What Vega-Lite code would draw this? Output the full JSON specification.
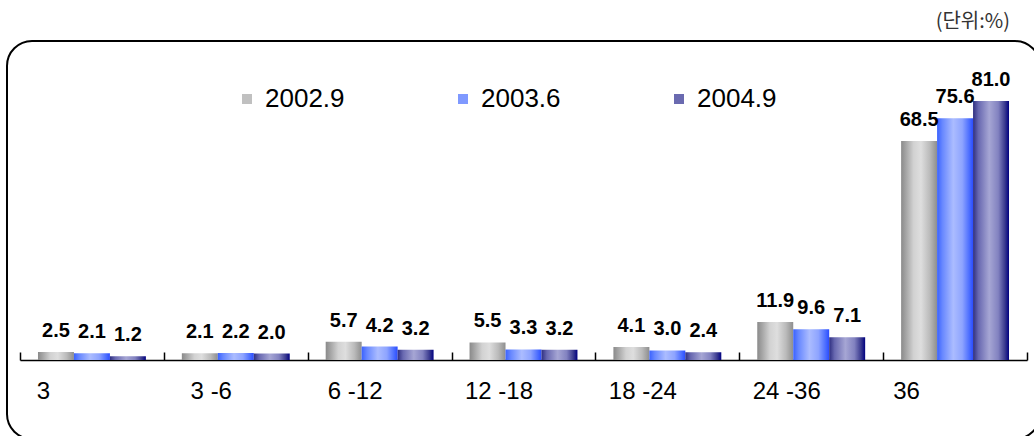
{
  "$schema": "https://vega.github.io/schema/vega-lite/v6.json",
  "width": 1033,
  "height": 398,
  "autosize": {"type": "none"},
  "padding": {"left": 7, "top": 41, "right": 0, "bottom": 0},
  "background": "white",
  "config": {
    "view": {"stroke": "black", "strokeWidth": 2, "cornerRadius": 25},
    "font": "Liberation Sans"
  },
  "title": {
    "text": "(단위:%)",
    "anchor": "end",
    "font": "Noto Sans CJK KR",
    "fontSize": 20,
    "fontWeight": "normal",
    "color": "#333",
    "dx": -30,
    "offset": 9
  },
  "data": {
    "values": [
      {"period": "3", "series": "2002.9", "value": 2.5},
      {"period": "3", "series": "2003.6", "value": 2.1},
      {"period": "3", "series": "2004.9", "value": 1.2},
      {"period": "3 -6", "series": "2002.9", "value": 2.1},
      {"period": "3 -6", "series": "2003.6", "value": 2.2},
      {"period": "3 -6", "series": "2004.9", "value": 2.0},
      {"period": "6 -12", "series": "2002.9", "value": 5.7},
      {"period": "6 -12", "series": "2003.6", "value": 4.2},
      {"period": "6 -12", "series": "2004.9", "value": 3.2},
      {"period": "12 -18", "series": "2002.9", "value": 5.5},
      {"period": "12 -18", "series": "2003.6", "value": 3.3},
      {"period": "12 -18", "series": "2004.9", "value": 3.2},
      {"period": "18 -24", "series": "2002.9", "value": 4.1},
      {"period": "18 -24", "series": "2003.6", "value": 3.0},
      {"period": "18 -24", "series": "2004.9", "value": 2.4},
      {"period": "24 -36", "series": "2002.9", "value": 11.9},
      {"period": "24 -36", "series": "2003.6", "value": 9.6},
      {"period": "24 -36", "series": "2004.9", "value": 7.1},
      {"period": "36", "series": "2002.9", "value": 68.5},
      {"period": "36", "series": "2003.6", "value": 75.6},
      {"period": "36", "series": "2004.9", "value": 81.0}
    ]
  },
  "encoding": {
    "x": {
      "field": "period",
      "type": "nominal",
      "sort": null,
      "scale": {"range": [13, 1020], "paddingInner": 0, "paddingOuter": 0},
      "axis": {
        "title": null,
        "offset": -79,
        "domainColor": "black",
        "domainWidth": 1.5,
        "tickColor": "black",
        "tickWidth": 1.5,
        "tickSize": -8,
        "tickBand": "extent",
        "labelAngle": 0,
        "labelFontSize": 24,
        "labelColor": "black",
        "labelFont": "Liberation Sans",
        "labelPadding": 27,
        "labelAlign": "center",
        "labelOffset": {"expr": "datum.value == '3' || datum.value == '36' ? -49 : -25"},
        "grid": false
      }
    },
    "xOffset": {
      "field": "series",
      "type": "nominal",
      "scale": {"paddingOuter": 0.5, "paddingInner": 0}
    },
    "y": {
      "field": "value",
      "type": "quantitative",
      "scale": {"domain": [0, 81], "range": [319, 60], "zero": true, "nice": false},
      "axis": null
    }
  },
  "layer": [
    {
      "mark": {"type": "bar"},
      "encoding": {
        "fill": {
          "condition": [
            {"test": "datum.series === '2002.9'", "value": {"gradient": "linear", "x1": 0, "y1": 0, "x2": 1, "y2": 0, "stops": [
                {"offset": 0, "color": "#8a8a8a"},
                {"offset": 0.15, "color": "#a8a8a8"},
                {"offset": 0.35, "color": "#d2d2d2"},
                {"offset": 0.55, "color": "#dedede"},
                {"offset": 0.8, "color": "#bababa"},
                {"offset": 1, "color": "#8e8e8e"}
              ]}},
            {"test": "datum.series === '2003.6'", "value": {"gradient": "linear", "x1": 0, "y1": 0, "x2": 1, "y2": 0, "stops": [
                {"offset": 0, "color": "#3a62ff"},
                {"offset": 0.15, "color": "#6888ff"},
                {"offset": 0.45, "color": "#abbcff"},
                {"offset": 0.7, "color": "#8ea4ff"},
                {"offset": 0.9, "color": "#4a6cff"},
                {"offset": 1, "color": "#2a4cff"}
              ]}}
          ],
          "value": {"gradient": "linear", "x1": 0, "y1": 0, "x2": 1, "y2": 0, "stops": [
                {"offset": 0, "color": "#2e2e80"},
                {"offset": 0.15, "color": "#6868b0"},
                {"offset": 0.45, "color": "#a6a6d4"},
                {"offset": 0.7, "color": "#8282c0"},
                {"offset": 0.88, "color": "#3c3c90"},
                {"offset": 1, "color": "#000080"}
              ]}
        }
      }
    },
    {
      "mark": {"type": "point", "filled": true, "shape": "square"},
      "encoding": {
        "size": {"value": 0},
        "color": {
          "field": "series",
          "type": "nominal",
          "scale": {"domain": ["2002.9", "2003.6", "2004.9"], "range": ["#c0c0c0", "#7f99ff", "#6a6ab0"]},
          "legend": {
            "title": null,
            "orient": "none",
            "direction": "horizontal",
            "legendX": 227,
            "legendY": 45,
            "symbolType": "square",
            "symbolSize": 100,
            "symbolStrokeWidth": 0,
            "symbolOpacity": 1,
            "labelFontSize": 26,
            "labelFont": "Liberation Sans",
            "labelColor": "black",
            "labelOffset": 5,
            "columnPadding": 105,
            "labelLimit": 200,
            "encode": {
              "symbols": {
                "update": {
                  "fill": {
                    "condition": [
                      {"test": "datum.value === '2002.9'", "value": {"gradient": "linear", "x1": 0, "y1": 0, "x2": 1, "y2": 0, "stops": [
                        {"offset": 0, "color": "#8c8c8c"},
                        {"offset": 0.35, "color": "#d2d2d2"},
                        {"offset": 0.55, "color": "#e2e2e2"},
                        {"offset": 1, "color": "#929292"}]}},
                      {"test": "datum.value === '2003.6'", "value": {"gradient": "linear", "x1": 0, "y1": 0, "x2": 1, "y2": 0, "stops": [
                        {"offset": 0, "color": "#3a62ff"},
                        {"offset": 0.45, "color": "#abbcff"},
                        {"offset": 1, "color": "#2a4cff"}]}}
                    ],
                    "value": {"gradient": "linear", "x1": 0, "y1": 0, "x2": 1, "y2": 0, "stops": [
                        {"offset": 0, "color": "#2e2e80"},
                        {"offset": 0.45, "color": "#a6a6d4"},
                        {"offset": 1, "color": "#000080"}]}
                  }
                }
              }
            }
          }
        }
      }
    },
    {
      "mark": {
        "type": "text",
        "baseline": "alphabetic",
        "dy": -15,
        "fontSize": 20,
        "fontWeight": "bold",
        "font": "Liberation Sans",
        "color": "black"
      },
      "encoding": {
        "text": {"field": "value", "type": "quantitative", "format": ".1f"}
      }
    }
  ]
}
